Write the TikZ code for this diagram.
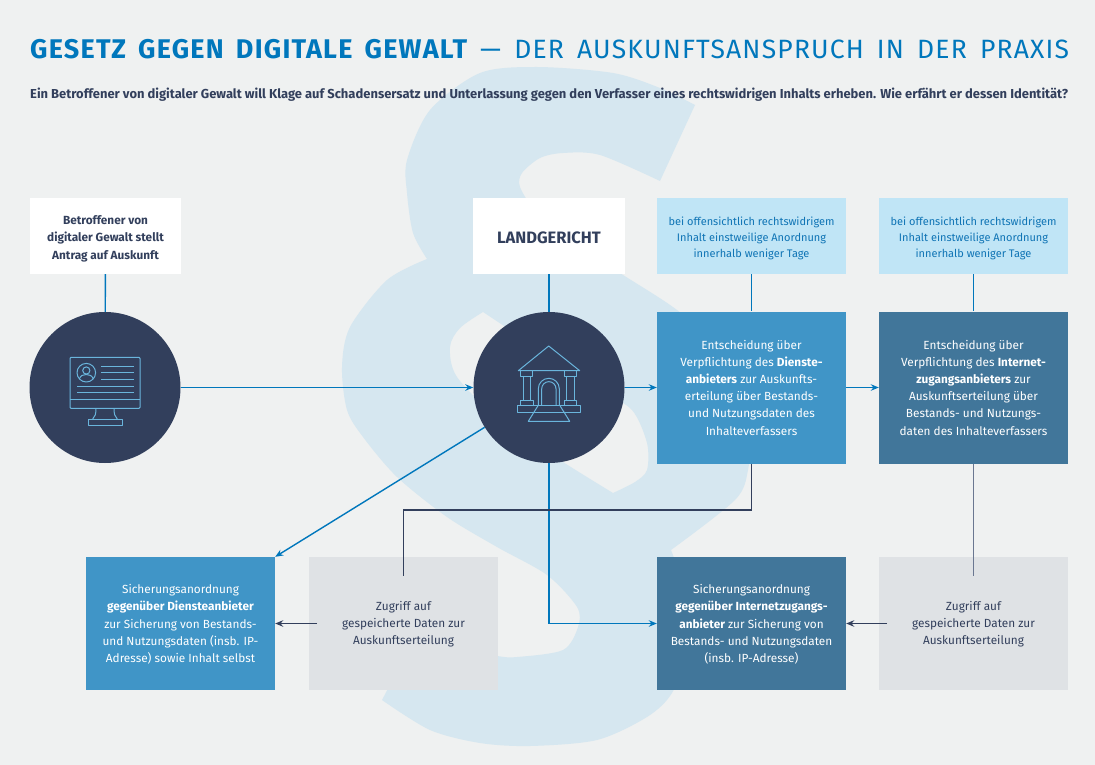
\documentclass[tikz,border=0pt]{standalone}
\usepackage{fontspec}
\setmainfont{Fira Sans}
\newfontfamily\titlefont[LetterSpace=4.5,WordSpace=1.6]{Fira Sans}
\usetikzlibrary{arrows.meta}
\definecolor{pagebg}{HTML}{EFF1F1}
\definecolor{paragraf}{HTML}{D6E7F0}
\definecolor{titleblue}{HTML}{0077BC}
\definecolor{navy}{HTML}{323F5C}
\definecolor{midblue}{HTML}{4095C7}
\definecolor{deepblue}{HTML}{41769A}
\definecolor{hintblue}{HTML}{C0E5F6}
\definecolor{hinttext}{HTML}{0F74B5}
\definecolor{greybox}{HTML}{DFE2E5}
\definecolor{iconline}{HTML}{6AB5DC}
\definecolor{linegrey}{HTML}{6A7791}
\tikzset{
 textdrop/.style={execute at begin node=\rule{0pt}{#1}},
 box/.style={inner sep=0pt, minimum width=189pt, align=center, font=\fontsize{11.8}{17.2}\selectfont},
 toprow/.style={box, minimum height=76pt},
 whitebox/.style={toprow, fill=white, text=navy, font=\fontsize{11.8}{17.2}\selectfont\bfseries},
 hintbox/.style={toprow, fill=hintblue, text=hinttext, font=\fontsize{11}{16.2}\selectfont, textdrop=46pt},
 bigbox/.style={box, minimum height=152pt, text=white},
 lowbox/.style={box, minimum height=133pt},
 hub/.style={circle, fill=navy, minimum size=151pt, inner sep=0pt},
 wire/.style={line width=1.4pt, titleblue},
 darkwire/.style={line width=1.4pt, navy},
 arrow/.style={-{Stealth[length=8pt,width=6.5pt]}},
 icon/.style={line width=1pt, iconline, line join=round},
}
\begin{document}
\begin{tikzpicture}[x=1pt,y=-1pt]
\useasboundingbox (0,0) rectangle (1095,765);
\fill[pagebg] (0,0) rectangle (1095,765);
\fill[paragraf, even odd rule]
 plot[smooth] coordinates {(695,105)(660,88)(613,73)(537,67)(480,73)(430,110)(407,160)(407,193)(413,233)(427,259)}
 -- plot[smooth] coordinates {(427,259)(387,280)(350,327)(342,367)(347,410)(363,437)(397,477)(447,517)(497,547)(547,575)(577,607)(578,627)(563,650)(517,657)(497,656)(450,648)(420,628)}
 -- plot[smooth] coordinates {(382,700)(430,730)(480,743)(530,746)(597,740)(647,717)(672,693)(688,650)(688,610)(680,575)(671,550)}
 -- plot[smooth] coordinates {(671,550)(735,500)(748,470)(750,430)(740,385)(720,350)(677,310)(620,273)(570,240)(535,210)(520,187)(522,173)(540,158)(563,153)(600,155)(660,181)}
 -- cycle
 plot[smooth] coordinates {(483,312)(540,350)(600,390)(632,410)(647,443)(647,470)(635,482)(613,493)}
 -- plot[smooth] coordinates {(613,493)(563,462)(500,420)(457,377)(450,347)(460,328)(483,312)}
 -- cycle;
\node[anchor=base west, inner sep=0pt, text=titleblue, font=\fontsize{26.5}{30}\selectfont] (title) at (30,59){\titlefont{\fontsize{27}{30}\selectfont\bfseries GESETZ GEGEN DIGITALE GEWALT} — DER AUSKUNFTSANSPRUCH IN DER PRAXIS};
\node[anchor=base west, inner sep=0pt, text=navy, font=\fontsize{12.97}{15}\selectfont\bfseries] (lead) at (30,99){Ein Betroffener von digitaler Gewalt will Klage auf Schadensersatz und Unterlassung gegen den Verfasser eines rechtswidrigen Inhalts erheben. Wie erfährt er dessen Identität?};
\node[whitebox, minimum width=151pt, textdrop=49pt] (antrag) at (105.5,236){Betroffener von\\digitaler Gewalt stellt\\Antrag auf Auskunft};
\node[whitebox, minimum width=152pt, font=\fontsize{16.5}{17}\selectfont\bfseries, textdrop=15pt] (gericht) at (549,236){LANDGERICHT};
\node[hintbox] (hint0) at (751.5,236){bei offensichtlich rechtswidrigem\\Inhalt einstweilige Anordnung\\innerhalb weniger Tage};
\node[hintbox] (hint1) at (973.5,236){bei offensichtlich rechtswidrigem\\Inhalt einstweilige Anordnung\\innerhalb weniger Tage};
\node[hub] (nutzer) at (105,387.5){};
\node[hub] (court) at (549,387.5){};
\node[bigbox, fill=midblue] (ent0) at (751.5,387.5){Entscheidung über\\Verpflichtung des \textbf{Dienste-}\\\textbf{anbieters} zur Auskunfts-\\erteilung über Bestands-\\und Nutzungsdaten des\\Inhalteverfassers};
\node[bigbox, fill=deepblue] (ent1) at (973.5,387.5){Entscheidung über\\Verpflichtung des \textbf{Internet-}\\\textbf{zugangsanbieters} zur\\Auskunftserteilung über\\Bestands- und Nutzungs-\\daten des Inhalteverfassers};
\node[lowbox, fill=midblue, text=white, textdrop=79.5pt] (sich0) at (180.5,623.5){Sicherungsanordnung\\\textbf{gegenüber Diensteanbieter}\\zur Sicherung von Bestands-\\und Nutzungsdaten (insb. IP-\\Adresse) sowie Inhalt selbst};
\node[lowbox, fill=greybox, text=navy, textdrop=45pt] (zug0) at (403.5,623.5){Zugriff auf\\gespeicherte Daten zur\\Auskunftserteilung};
\node[lowbox, fill=deepblue, text=white, textdrop=79.5pt] (sich1) at (751.5,623.5){Sicherungsanordnung\\\textbf{gegenüber Internetzugangs-}\\\textbf{anbieter} zur Sicherung von\\Bestands- und Nutzungsdaten\\(insb. IP-Adresse)};
\node[lowbox, fill=greybox, text=navy, textdrop=45pt] (zug1) at (973.5,623.5){Zugriff auf\\gespeicherte Daten zur\\Auskunftserteilung};
\coordinate (zug0top) at (403.5,576);
\coordinate (zug1top) at (973.5,576);
\coordinate (zug0left) at (317,623.5);
\coordinate (zug1left) at (887,623.5);
\draw[wire](antrag) -- (nutzer);
\draw[wire](gericht) -- (court);
\draw[wire](hint0) -- (ent0);
\draw[wire](hint1) -- (ent1);
\draw[wire, arrow](nutzer) -- (court);
\draw[wire, arrow](court) -- (ent0);
\draw[wire, arrow](ent0) -- (ent1);
\draw[wire, arrow](court) -- (sich0.north east);
\draw[wire, arrow](court.south) |- (sich1.west);
\draw[darkwire](ent0.south) |- (403.5,510) -- (zug0top);
\draw[line width=1.4pt, linegrey](ent1) -- (zug1top);
\draw[darkwire, arrow](zug0left) -- (sich0);
\draw[darkwire, arrow](zug1left) -- (sich1);
\draw[icon, rounded corners=1pt] (70,357.3) rectangle (140,408.3);
\draw[icon] (70,399.3) -- (140,399.3);
\draw[icon] (86.3,372.7) circle (9.3);
\draw[icon] (86.3,370.5) circle (3.6);
\draw[icon] (79.3,379) .. controls (80.5,375.5) and (83,374.5) .. (86.3,374.5) .. controls (89.5,374.5) and (92,375.5) .. (93.3,379);
\foreach \y in {366,372.7,379.3} \draw[icon] (101,\y) -- (134,\y);
\foreach \y in {386,392.7} \draw[icon] (77,\y) -- (134,\y);
\draw[icon] (96,408.3) .. controls (96,414) and (95,417) .. (92.7,419);
\draw[icon] (114,408.3) .. controls (114,414) and (115,417) .. (117.3,419);
\draw[icon] (88,419) rectangle (122.7,425);
\draw[icon] (518.3,370.7) -- (548.7,346) -- (579.7,370.7) -- cycle;
\foreach \x in {520.7,564.3} {
\draw[icon] (\x,370.7) rectangle (\x+12,376.7);
\draw[icon] (\x+2.5,376.7) rectangle (\x+10,400);
\draw[icon] (\x,400) rectangle (\x+12.5,405.7);
}
\draw[icon] (517.3,405.7) rectangle (580.7,412.3);
\draw[icon] (538.3,405.7) -- (538.3,388.8) arc (180:360:10.5) -- (559.3,405.7);
\draw[icon] (541.7,405.7) -- (541.7,388.8) arc (180:360:7.15) -- (556,405.7);
\draw[icon] (538,405.7) -- (528.3,421.3) -- (569.7,421.3) -- (560,405.7);
\end{tikzpicture}
\end{document}
